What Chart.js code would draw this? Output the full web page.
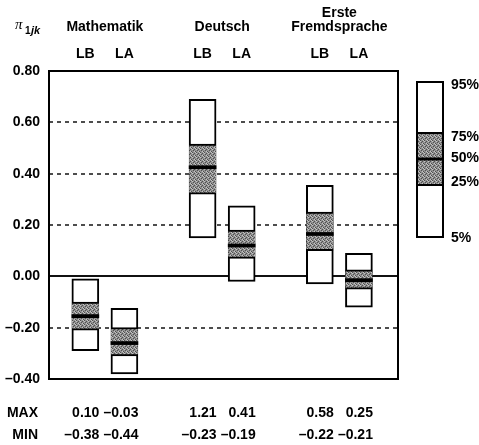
<!DOCTYPE html>
<html>
<head>
<meta charset="utf-8">
<script src="https://cdn.jsdelivr.net/npm/chart.js@4/dist/chart.umd.min.js"></script>
<style>
  html, body { margin: 0; padding: 0; background: #fff; }
  #wrap { width: 479px; height: 445px; position: relative; }
</style>
</head>
<body>
<div id="wrap"><canvas id="chart"></canvas></div>
<script>
// subjects and their two groups (LB / LA)
const subjects = [['Mathematik'], ['Deutsch'], ['Erste', 'Fremdsprache']];
const groups = ['LB', 'LA', 'LB', 'LA', 'LB', 'LA'];
const xPos = [1, 2, 4, 5, 7, 8];

// percentiles of pi_1jk
const p5  = [-0.29, -0.38, 0.15, -0.02, -0.03, -0.12];
const p25 = [-0.21, -0.31, 0.32, 0.07, 0.10, -0.05];
const p50 = [-0.155, -0.26, 0.425, 0.12, 0.165, -0.015];
const p75 = [-0.10, -0.20, 0.515, 0.18, 0.25, 0.025];
const p95 = [-0.01, -0.125, 0.69, 0.275, 0.355, 0.09];

// extremes printed under the plot
const maxVals = [0.10, -0.03, 1.21, 0.41, 0.58, 0.25];
const minVals = [-0.38, -0.44, -0.23, -0.19, -0.22, -0.21];

const legendLabels = ['95%', '75%', '50%', '25%', '5%'];

const FONT = '"Liberation Sans", Arial, Helvetica, sans-serif';
const fmt = v => Math.abs(v) < 1e-9 ? '0.00' : v.toFixed(2).replace('-', '\u2013');

// stippled grey used for the inner boxes
function makeStipple() {
    const c = document.createElement('canvas');
    c.width = 4; c.height = 4;
    const g = c.getContext('2d');
    g.fillStyle = '#929292';
    g.fillRect(0, 0, 4, 4);
    g.fillStyle = '#505050';
    [[0, 0], [2, 1], [1, 2], [3, 3]].forEach(([x, y]) => g.fillRect(x, y, 1, 1));
    g.fillStyle = '#c4c4c4';
    [[2, 3], [0, 1], [3, 0]].forEach(([x, y]) => g.fillRect(x, y, 1, 1));
    return g.createPattern(c, 'repeat');
}
const stipple = makeStipple();

const rangeData = (lo, hi) => xPos.map((x, i) => ({ x, y: [lo[i], hi[i]] }));

// dashed grid, solid zero line and frame
const framePlugin = {
    id: 'frame',
    beforeDatasetsDraw(chart) {
        const { ctx, chartArea: a, scales: { y } } = chart;
        ctx.save();
        y.ticks.forEach(t => {
            if (t.value <= y.min || t.value >= y.max) return;
            const py = Math.round(y.getPixelForValue(t.value));
            ctx.beginPath();
            if (Math.abs(t.value) < 1e-9) {
                ctx.setLineDash([]);
                ctx.lineWidth = 2;
                ctx.strokeStyle = '#111';
            } else {
                ctx.setLineDash([4, 4]);
                ctx.lineWidth = 1.6;
                ctx.strokeStyle = '#222';
            }
            ctx.moveTo(a.left, py);
            ctx.lineTo(a.right, py);
            ctx.stroke();
        });
        ctx.restore();
    },
    afterDatasetsDraw(chart) {
        const { ctx, chartArea: a } = chart;
        ctx.save();
        ctx.lineWidth = 2;
        ctx.strokeStyle = '#000';
        ctx.strokeRect(a.left, a.top, a.right - a.left, a.bottom - a.top);
        ctx.restore();
    }
};

// headers, MAX/MIN rows and the percentile key
const textPlugin = {
    id: 'texts',
    afterDraw(chart) {
        const { ctx, chartArea: a, scales: { x } } = chart;
        ctx.save();
        ctx.fillStyle = '#000';
        ctx.textBaseline = 'middle';

        // y label pi_1jk
        ctx.textAlign = 'left';
        ctx.font = 'italic 15px "Liberation Serif", serif';
        ctx.fillText('\u03c0', 15, 25);
        ctx.font = 'bold 10px ' + FONT;
        ctx.fillText('1', 25, 31);
        ctx.font = 'bold italic 11px ' + FONT;
        ctx.fillText('jk', 31, 31);

        // subject headers
        ctx.textAlign = 'center';
        ctx.font = 'bold 14px ' + FONT;
        subjects.forEach((lines, k) => {
            const cx = (x.getPixelForValue(xPos[2 * k]) + x.getPixelForValue(xPos[2 * k + 1])) / 2;
            lines.forEach((ln, j) => {
                ctx.fillText(ln, cx, 27 - (lines.length - 1 - j) * 14);
            });
        });

        // MAX / MIN
        ctx.textAlign = 'right';
        ctx.fillText('MAX', 38, 413);
        ctx.fillText('MIN', 38, 435);
        xPos.forEach((v, i) => {
            const px = x.getPixelForValue(v) + 14;
            ctx.fillText(fmt(maxVals[i]), px, 413);
            ctx.fillText(fmt(minVals[i]), px, 435);
        });

        // percentile key
        const lx = a.right + 19, lw = 26;
        const kTop = a.top + 11, k75 = a.top + 62, k50 = a.top + 88, k25 = a.top + 114, kBot = a.top + 166;
        ctx.fillStyle = stipple;
        ctx.fillRect(lx, k75, lw, k25 - k75);
        ctx.fillStyle = '#000';
        ctx.fillRect(lx, k50 - 1.5, lw, 3);
        ctx.lineWidth = 2;
        ctx.strokeStyle = '#000';
        ctx.beginPath();
        ctx.moveTo(lx, k75); ctx.lineTo(lx + lw, k75);
        ctx.moveTo(lx, k25); ctx.lineTo(lx + lw, k25);
        ctx.stroke();
        ctx.strokeRect(lx, kTop, lw, kBot - kTop);

        ctx.textAlign = 'left';
        const labelY = [a.top + 14, a.top + 66, a.top + 87, a.top + 111, a.top + 167];
        legendLabels.forEach((t, i) => ctx.fillText(t, lx + lw + 8, labelY[i]));
        ctx.restore();
    }
};

new Chart(document.getElementById('chart'), {
    type: 'bar',
    data: {
        datasets: [
            {
                label: 'Median',
                order: 0,
                data: rangeData(p50.map(v => v - 0.006), p50.map(v => v + 0.006)),
                backgroundColor: '#000',
                borderWidth: 0
            },
            {
                label: '25% - 75%',
                order: 1,
                data: rangeData(p25, p75),
                backgroundColor: stipple,
                borderColor: '#000',
                borderWidth: { top: 2, bottom: 2, left: 0, right: 0 }
            },
            {
                label: '5% - 95%',
                order: 2,
                data: rangeData(p5, p95),
                backgroundColor: '#fff',
                borderColor: '#000',
                borderWidth: 2
            }
        ]
    },
    options: {
        responsive: true,
        maintainAspectRatio: false,
        animation: false,
        layout: { padding: { left: 0, top: 0, right: 81, bottom: 66 } },
        datasets: {
            bar: { grouped: false, barThickness: 27, borderSkipped: false }
        },
        plugins: {
            legend: { display: false },
            tooltip: { enabled: false },
            title: { display: false }
        },
        scales: {
            x: {
                type: 'linear',
                position: 'top',
                offset: false,
                min: 0.07,
                max: 9,
                grid: { display: false, drawTicks: false, offset: false },
                border: { display: false },
                afterBuildTicks: s => { s.ticks = xPos.map(v => ({ value: v })); },
                afterFit: s => { s.height = 71; },
                ticks: {
                    autoSkip: false,
                    maxRotation: 0,
                    padding: 8,
                    color: '#000',
                    font: { family: FONT, size: 14, weight: 'bold' },
                    callback: v => groups[xPos.indexOf(v)]
                }
            },
            y: {
                min: -0.4,
                max: 0.8,
                grid: { display: false, drawTicks: false },
                border: { display: false },
                afterFit: s => { s.width = 49; },
                ticks: {
                    stepSize: 0.2,
                    padding: 9,
                    color: '#000',
                    font: { family: FONT, size: 14, weight: 'bold' },
                    callback: v => fmt(v)
                }
            }
        }
    },
    plugins: [framePlugin, textPlugin]
});
</script>
</body>
</html>
